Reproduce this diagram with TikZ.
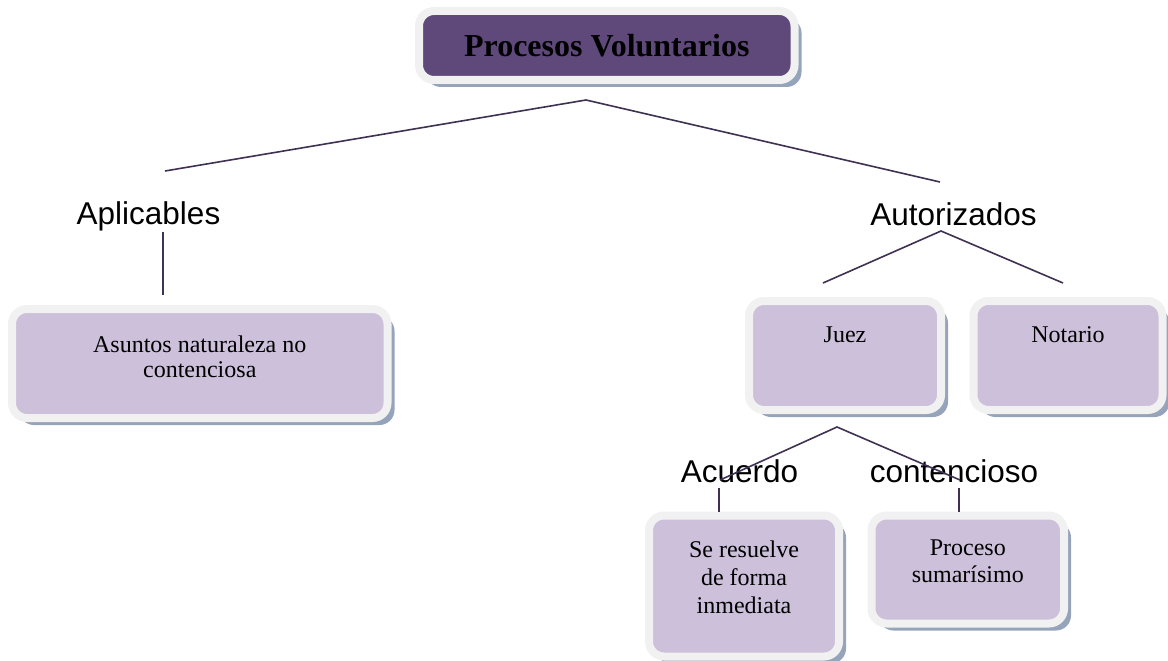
\documentclass[tikz,border=0pt]{standalone}
\usepackage{fontspec}
\setmainfont{Liberation Serif}
\newfontfamily\arialfont{Liberation Sans}
\usetikzlibrary{shadows, positioning}
\definecolor{plum}{HTML}{5F497A}
\definecolor{lilac}{HTML}{CCC0DA}
\definecolor{framegray}{HTML}{F1F1F1}
\definecolor{shadowblue}{HTML}{95A4BA}
\definecolor{linkpurple}{HTML}{3F3151}
\tikzstyle{box} = [rectangle, rounded corners=15pt, draw=framegray, line width=8pt, fill=lilac, drop shadow={opacity=1, fill=shadowblue, shadow xshift=7pt, shadow yshift=-7pt}]
\tikzstyle{titlebox} = [box, fill=plum, font=\bfseries\fontsize{32}{36}\selectfont]
\tikzstyle{boxtext} = [inner sep=0pt, align=center, font=\fontsize{24}{27}\selectfont]
\tikzstyle{branch} = [inner sep=0pt, anchor=base, font=\arialfont\fontsize{31.5}{36}\selectfont]
\tikzstyle{link} = [draw=linkpurple, line width=1.6pt]
\begin{document}
\begin{tikzpicture}[x=1pt, y=-1pt, node distance=29.5pt]
		\useasboundingbox (0,0) rectangle (1168,661);
		% boxes
		\node (Title) [titlebox, minimum width=375.5pt, minimum height=69pt] at (606.75,45.5) {Procesos Voluntarios};
		\node (Asuntos) [box, minimum width=375.5pt, minimum height=109pt] at (199.75,363.5) {};
		\node (Juez) [box, minimum width=192pt, minimum height=109pt] at (845,355.5) {};
		\node (Notario) [box, minimum width=189pt, minimum height=109pt] at (1068,355.5) {};
		\node (Resuelve) [box, minimum width=190pt, minimum height=141pt] at (744,586) {};
		\node (Sumario) [box, minimum width=192.5pt, minimum height=108pt] at (967.75,569.5) {};
		
		\node (AsuntosText) [boxtext, below = 31pt of Asuntos.north, font=\fontsize{24}{25}\selectfont] {Asuntos naturaleza no\\contenciosa};
		\node (JuezText) [boxtext, below = of Juez.north] {Juez};
		\node (NotarioText) [boxtext, below = of Notario.north] {Notario};
		\node (ResuelveText) [boxtext, below = of Resuelve.north, font=\fontsize{24}{28}\selectfont] {Se resuelve\\de forma\\inmediata};
		\node (SumarioText) [boxtext, below = 28pt of Sumario.north] {Proceso\\sumarísimo};
		
		% branch labels
		\node (Aplicables) [branch] at (148.5,224) {Aplicables};
		\node (Autorizados) [branch] at (953.5,225) {Autorizados};
		\node (Acuerdo) [branch] at (739.5,482) {Acuerdo};
		\node (Contencioso) [branch] at (954,482) {contencioso};
		
		\coordinate (TitleFork) at (586,100);
		\coordinate (AplicablesTop) at (165,171);
		\coordinate (AutorizadosTop) at (940,182);
		\coordinate (AplicablesStem) at (163,232);
		\coordinate (AsuntosTop) at (163,295);
		\coordinate (AutorizadosFork) at (941,231);
		\coordinate (JuezTop) at (823,283);
		\coordinate (NotarioTop) at (1063,283);
		\coordinate (JuezFork) at (837,427);
		\coordinate (AcuerdoTop) at (720,480);
		\coordinate (ContenciosoTop) at (960,480);
		\coordinate (AcuerdoStem) at (719,488);
		\coordinate (ResuelveTop) at (719,512);
		\coordinate (ContenciosoStem) at (959,488);
		\coordinate (SumarioTop) at (959,512);
		
		\draw [link] (AplicablesTop) -- (TitleFork) -- (AutorizadosTop);
		\draw [link] (AplicablesStem) -- (AsuntosTop);
		\draw [link] (JuezTop) -- (AutorizadosFork) -- (NotarioTop);
		\draw [link] (AcuerdoTop) -- (JuezFork) -- (ContenciosoTop);
		\draw [link] (AcuerdoStem) -- (ResuelveTop);
		\draw [link] (ContenciosoStem) -- (SumarioTop);
		\end{tikzpicture}
\end{document}
